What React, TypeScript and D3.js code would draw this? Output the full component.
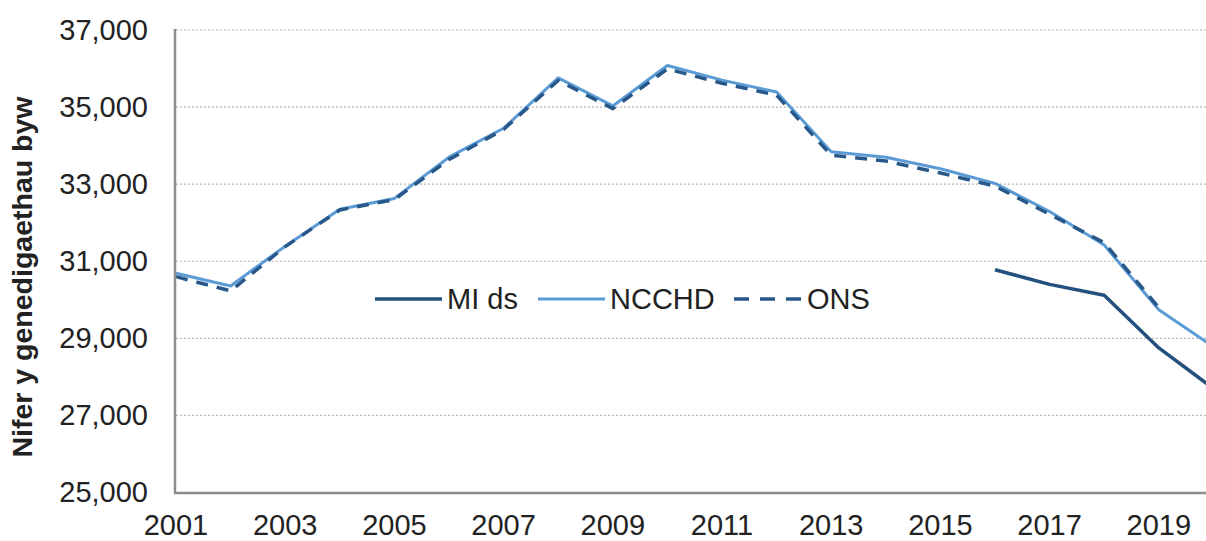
import React from "react";
import * as d3 from "d3";

const years = [2001, 2002, 2003, 2004, 2005, 2006, 2007, 2008, 2009, 2010, 2011, 2012, 2013, 2014, 2015, 2016, 2017, 2018, 2019, 2020];
const ncchd = [30690, 30360, 31390, 32350, 32630, 33700, 34450, 35760, 35030, 36080, 35700, 35390, 33840, 33700, 33400, 33020, 32290, 31420, 29740, 28780];
const ons: (number | null)[] = [30600, 30230, 31380, 32330, 32600, 33640, 34420, 35690, 34960, 35990, 35620, 35310, 33750, 33600, 33290, 32950, 32220, 31480, 29800, null];
const miDs: (number | null)[] = [null, null, null, null, null, null, null, null, null, null, null, null, null, null, null, 30780, 30400, 30120, 28750, 27700];
const yTicks = [25000, 27000, 29000, 31000, 33000, 35000, 37000];
const xTickYears = [2001, 2003, 2005, 2007, 2009, 2011, 2013, 2015, 2017, 2019];
const seriesNames = ["MI ds", "NCCHD", "ONS"];

const W = 1206;
const H = 541;
const FONT = "'Liberation Sans', Arial, sans-serif";

export default function App() {
  const x = d3.scaleLinear().domain([2001, 2020]).range([176, 176 + 19 * 54.6]);
  const y = d3.scaleLinear().domain([25000, 37000]).range([492.5, 30]);
  const fmt = d3.format(",");

  const mk = (vals: (number | null)[]) =>
    d3
      .line<number>()
      .defined((_, i) => vals[i] !== null)
      .x((d) => x(d))
      .y((_, i) => y(vals[i] as number))(years) || "";

  const colMI = "#23507d";
  const colN = "#5b9bd5";
  const colO = "#28588a";
  const legendY = 299;
  const legend = [
    { name: seriesNames[0], x1: 375, x2: 442, color: colMI, dash: undefined, w: 3.5 },
    { name: seriesNames[1], x1: 538, x2: 605, color: colN, dash: undefined, w: 3 },
    { name: seriesNames[2], x1: 734, x2: 802, color: colO, dash: "15,11", w: 3.5 },
  ];

  return (
    <svg width={W} height={H} style={{ position: "absolute", left: 0, top: 0, background: "#fff" }} fontFamily={FONT}>
      <rect x={0} y={0} width={W} height={H} fill="#fff" />
      {yTicks.map((t) => (
        <line key={"g" + t} x1={176} x2={W} y1={y(t)} y2={y(t)} stroke="#b8b8b8" strokeWidth={1.2} strokeDasharray="2,2" />
      ))}
      {yTicks.map((t) => (
        <text key={"yt" + t} x={148} y={y(t)} dy="0.34em" textAnchor="end" fontSize={29} fill="#222">
          {fmt(t)}
        </text>
      ))}
      {xTickYears.map((t) => (
        <text key={"xt" + t} x={x(t)} y={535} textAnchor="middle" fontSize={29} fill="#222">
          {t}
        </text>
      ))}
      <text
        transform={`translate(32,277) rotate(-90)`}
        textAnchor="middle"
        fontSize={28.5}
        fontWeight="bold"
        fill="#222"
      >
        Nifer y genedigaethau byw
      </text>
      <path d={mk(ncchd)} fill="none" stroke={colN} strokeWidth={3} strokeLinejoin="round" />
      <path d={mk(ons)} fill="none" stroke={colO} strokeWidth={3.5} strokeDasharray="12,9" strokeLinejoin="round" />
      <path d={mk(miDs)} fill="none" stroke={colMI} strokeWidth={3.5} strokeLinejoin="round" />
      <line x1={175} x2={175} y1={29} y2={493} stroke="#8c8c8c" strokeWidth={2.5} />
      <line x1={174} x2={W} y1={493} y2={493} stroke="#8c8c8c" strokeWidth={2.5} />
      <rect x={370} y={275} width={530} height={50} fill="#fff" />
      {legend.map((l) => (
        <g key={l.name}>
          <line x1={l.x1} x2={l.x2} y1={legendY} y2={legendY} stroke={l.color} strokeWidth={l.w} strokeDasharray={l.dash} />
          <text x={l.x2 + 5} y={legendY} dy="0.36em" fontSize={29} fill="#222">
            {l.name}
          </text>
        </g>
      ))}
    </svg>
  );
}
